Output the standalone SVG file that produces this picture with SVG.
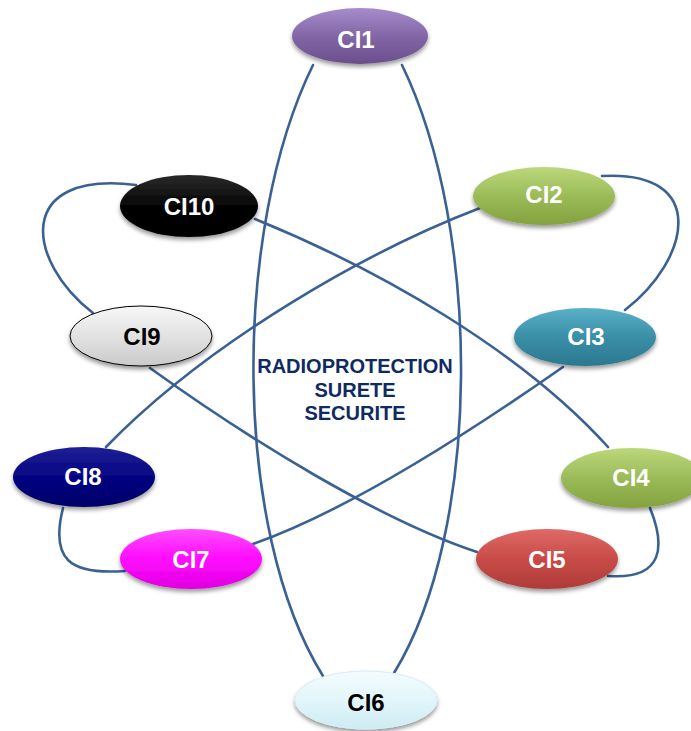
<svg xmlns="http://www.w3.org/2000/svg" width="691" height="731" viewBox="0 0 691 731">
<style>
.c{fill:none;stroke:#3a6194;stroke-width:2.6;stroke-linecap:round}
.n{filter:url(#sh)}
.t{font-family:"Liberation Sans",Arial,sans-serif;font-weight:bold;font-size:24px;text-anchor:middle;fill:#fff}
.d{fill:#000}
.ctr{font-family:"Liberation Sans",Arial,sans-serif;font-weight:bold;font-size:20px;text-anchor:middle;fill:#0f2a63}
</style>
<defs>
<filter id="sh" x="-20%" y="-30%" width="140%" height="170%">
<feDropShadow dx="0" dy="3" stdDeviation="2" flood-color="#000" flood-opacity="0.4"/>
</filter>
<linearGradient id="gP" x1="0" y1="0" x2="0" y2="1"><stop offset="0" stop-color="#a68ccb"/><stop offset="0.5" stop-color="#8366a6"/><stop offset="1" stop-color="#6a4e8c"/></linearGradient>
<linearGradient id="gG" x1="0" y1="0" x2="0" y2="1"><stop offset="0" stop-color="#bcd87a"/><stop offset="0.5" stop-color="#9bbb59"/><stop offset="1" stop-color="#84a23f"/></linearGradient>
<linearGradient id="gT" x1="0" y1="0" x2="0" y2="1"><stop offset="0" stop-color="#5ab0c8"/><stop offset="0.5" stop-color="#3a8fa7"/><stop offset="1" stop-color="#2b7890"/></linearGradient>
<linearGradient id="gR" x1="0" y1="0" x2="0" y2="1"><stop offset="0" stop-color="#de6a66"/><stop offset="0.5" stop-color="#c84b48"/><stop offset="1" stop-color="#ae3c39"/></linearGradient>
<linearGradient id="gC" x1="0" y1="0" x2="0" y2="1"><stop offset="0" stop-color="#f4fcfe"/><stop offset="0.5" stop-color="#e2f6fb"/><stop offset="1" stop-color="#cdebf3"/></linearGradient>
<linearGradient id="gM" x1="0" y1="0" x2="0" y2="1"><stop offset="0" stop-color="#ff4dff"/><stop offset="0.5" stop-color="#ff0bff"/><stop offset="1" stop-color="#e000e0"/></linearGradient>
<linearGradient id="gN" x1="0" y1="0" x2="0" y2="1"><stop offset="0" stop-color="#1f1f96"/><stop offset="0.5" stop-color="#050582"/><stop offset="1" stop-color="#000068"/></linearGradient>
<linearGradient id="gW" x1="0" y1="0" x2="0" y2="1"><stop offset="0" stop-color="#f7f7f7"/><stop offset="0.5" stop-color="#e2e2e2"/><stop offset="1" stop-color="#cacaca"/></linearGradient>
<linearGradient id="gK" x1="0" y1="0" x2="0" y2="1"><stop offset="0" stop-color="#2a2a2a"/><stop offset="0.5" stop-color="#050505"/><stop offset="1" stop-color="#000"/></linearGradient>
</defs>
<g id="connectors">
<path class="c" d="M313 65 C232 230,232 530,323 676"/>
<path class="c" d="M402 65 C482 230,482 530,394 673"/>
<path class="c" d="M136 185 C15 170,25 260,93 313"/>
<path class="c" d="M602 176 C710 170,690 260,625 310"/>
<path class="c" d="M63 508 C50 560,70 575,125 571"/>
<path class="c" d="M650 508 C665 545,665 580,608 576"/>
<path class="c" d="M255 219 C380 270,520 350,608 447"/>
<path class="c" d="M150 368 C250 440,380 520,477 552"/>
<path class="c" d="M480 208 C370 250,210 340,106 447"/>
<path class="c" d="M563 367 C480 425,350 510,253 544"/>
</g>
<g id="center-label">
<text class="ctr" x="355" y="373">RADIOPROTECTION</text>
<text class="ctr" x="355" y="397">SURETE</text>
<text class="ctr" x="355" y="420">SECURITE</text>
</g>
<g id="CI1"><ellipse class="n" cx="360" cy="36" rx="68" ry="28" fill="url(#gP)"/><text class="t" x="356" y="48">CI1</text></g>
<g id="CI2"><ellipse class="n" cx="544" cy="196" rx="71" ry="29" fill="url(#gG)"/><text class="t" x="544" y="203">CI2</text></g>
<g id="CI3"><ellipse class="n" cx="585" cy="337" rx="71" ry="29" fill="url(#gT)"/><text class="t" x="586" y="345">CI3</text></g>
<g id="CI4"><ellipse class="n" cx="632" cy="478" rx="71" ry="30" fill="url(#gG)"/><text class="t" x="631" y="486">CI4</text></g>
<g id="CI5"><ellipse class="n" cx="547" cy="559" rx="71" ry="30" fill="url(#gR)"/><text class="t" x="547" y="568">CI5</text></g>
<g id="CI6"><ellipse class="n" cx="366" cy="700" rx="71" ry="29" fill="url(#gC)" stroke="#d8eef4" stroke-width="1"/><text class="t d" x="366" y="711">CI6</text></g>
<g id="CI7"><ellipse class="n" cx="191" cy="559" rx="71" ry="30" fill="url(#gM)"/><text class="t" x="191" y="568">CI7</text></g>
<g id="CI8"><ellipse class="n" cx="84" cy="477" rx="71" ry="30" fill="url(#gN)"/><text class="t" x="83" y="485">CI8</text></g>
<g id="CI9"><ellipse class="n" cx="141" cy="336" rx="71" ry="30" fill="url(#gW)" stroke="#000" stroke-width="1"/><text class="t d" x="142" y="345">CI9</text></g>
<g id="CI10"><ellipse class="n" cx="189" cy="206" rx="69" ry="31" fill="url(#gK)"/><text class="t" x="189" y="215">CI10</text></g>
</svg>
